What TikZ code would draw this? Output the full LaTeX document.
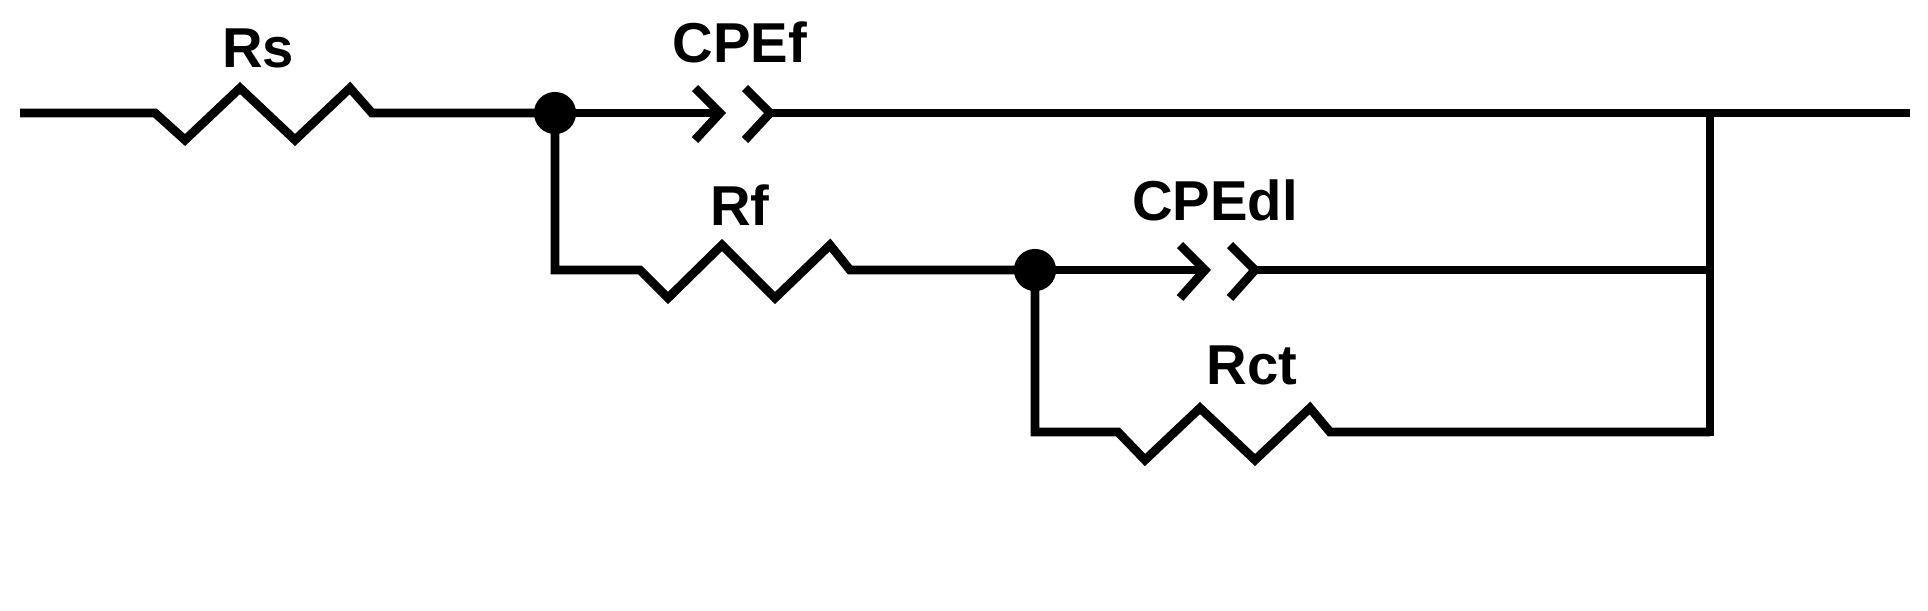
\documentclass[tikz,border=0pt]{standalone}
\usepackage{fontspec}
\setmainfont{Liberation Sans}
\begin{document}
\begin{tikzpicture}[x=0.02cm,y=-0.02cm,line width=5pt,line join=miter,
  lbl/.style={font=\fontsize{32}{34}\selectfont\bfseries,inner sep=0},
  dot/.style={circle,fill=black,minimum size=24pt,inner sep=0}]
\useasboundingbox (0,0) rectangle (1928,610);
\coordinate (L) at (20,113);
\coordinate (R) at (1910,113);
\coordinate (J) at (1710,113);
\coordinate (c1) at (555,113);
\coordinate (c2) at (1035,270);
\draw (L) -- (155,113) -- (185,140) -- (240,88) -- (295,140) -- (350,88) -- (372,113) -- (c1);
\draw (c1) -- (720,113);
\draw (695,88) -- (720,113) -- (695,140);
\draw (745,88) -- (770,113) -- (745,140);
\draw (770,113) -- (R);
\draw[line cap=rect] (J) -- (1710,432);
\draw (c1) -- (555,270) -- (640,270) -- (668,298) -- (722,245) -- (775,298) -- (830,245) -- (850,270) -- (c2);
\draw (c2) -- (1205,270);
\draw (1180,245) -- (1205,270) -- (1180,298);
\draw (1230,245) -- (1255,270) -- (1230,298);
\draw (1255,270) -- (1710,270);
\draw (c2) -- (1035,432) -- (1118,432) -- (1145,460) -- (1200,408) -- (1255,460) -- (1310,408) -- (1330,432) -- (1710,432);
\node[dot] (n1) at (c1) {};
\node[dot] (n2) at (c2) {};
\node[lbl] (rs) at (258,48) {Rs};
\node[lbl] (cpef) at (740,42) {CPEf};
\node[lbl] (rf) at (740,205) {Rf};
\node[lbl] (cpedl) at (1215,200) {CPEdl};
\node[lbl] (rct) at (1252,365) {Rct};
\end{tikzpicture}
\end{document}
